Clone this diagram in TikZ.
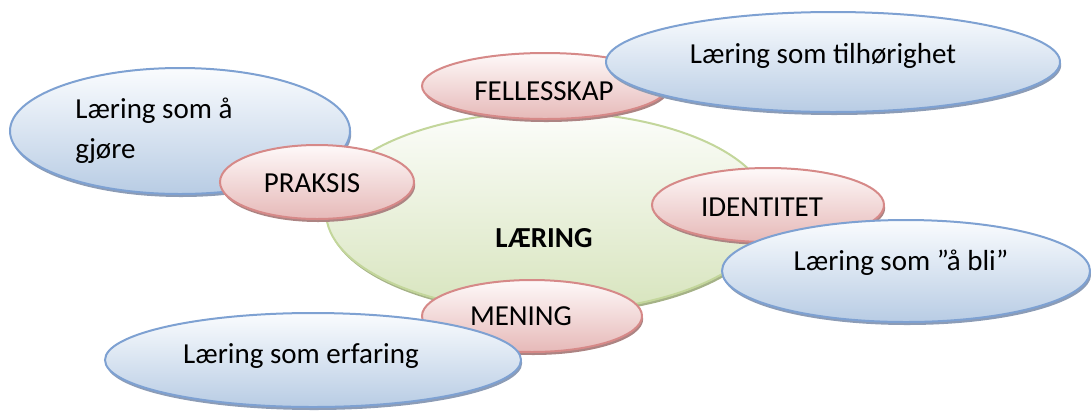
\documentclass[tikz,border=0pt]{standalone}
\usepackage{fontspec}
\setmainfont{Carlito}
\usetikzlibrary{shapes.geometric,shadows}

\definecolor{blueline}{RGB}{126,161,210}
\definecolor{bluetop}{RGB}{250,252,254}
\definecolor{bluebot}{RGB}{184,204,228}
\definecolor{blueshadow}{RGB}{140,156,182}
\definecolor{pinkline}{RGB}{214,137,136}
\definecolor{pinktop}{RGB}{254,249,249}
\definecolor{pinkbot}{RGB}{230,185,184}
\definecolor{pinkshadow}{RGB}{172,132,131}
\definecolor{greenline}{RGB}{195,214,155}
\definecolor{greentop}{RGB}{252,253,250}
\definecolor{greenbot}{RGB}{215,228,189}
\definecolor{greenshadow}{RGB}{165,178,135}

\begin{document}
\begin{tikzpicture}[x=0.5pt,y=-0.5pt,
  bubble/.style={ellipse,inner sep=0pt,line width=1pt},
  kjerne/.style={bubble,draw=greenline,top color=greentop,bottom color=greenbot,
    drop shadow={shadow xshift=0.6pt,shadow yshift=-1.5pt,fill=greenshadow,opacity=1}},
  rosa/.style={bubble,draw=pinkline,top color=pinktop,bottom color=pinkbot,
    drop shadow={shadow xshift=0.6pt,shadow yshift=-1.5pt,fill=pinkshadow,opacity=1}},
  blaa/.style={bubble,draw=blueline,top color=bluetop,bottom color=bluebot,
    drop shadow={shadow xshift=0.6pt,shadow yshift=-1.5pt,fill=blueshadow,opacity=1}},
  tekst/.style={font=\fontsize{14.5}{20}\selectfont,inner sep=0pt,anchor=base}]
\useasboundingbox (0,0) rectangle (1091,414);
\node[kjerne,minimum width=222pt,minimum height=100pt] (laering) at (548,212) {};
\node[blaa,minimum width=170pt,minimum height=63pt] (gjore) at (180,131) {};
\node[rosa,minimum width=97pt,minimum height=37pt] (praksis) at (317,182) {};
\node[rosa,minimum width=123pt,minimum height=33pt] (fellesskap) at (545,86) {};
\node[rosa,minimum width=116pt,minimum height=37pt] (identitet) at (768,205) {};
\node[rosa,minimum width=110pt,minimum height=36pt] (mening) at (532,316) {};
\node[blaa,minimum width=227pt,minimum height=50pt] (tilhorighet) at (833,62) {};
\node[blaa,minimum width=184pt,minimum height=51pt] (bli) at (906,271) {};
\node[blaa,minimum width=208pt,minimum height=47pt] (erfaring) at (313,360) {};

\node[tekst] (t-laering) at (544,247) {\bfseries LÆRING};
\node[tekst,anchor=base west,align=left] (t-gjore) at (75,158) {Læring som å\\gjøre};
\node[tekst] (t-praksis) at (312,192) {PRAKSIS};
\node[tekst] (t-fellesskap) at (544,100) {FELLESSKAP};
\node[tekst] (t-identitet) at (762,216) {IDENTITET};
\node[tekst] (t-mening) at (521,325) {MENING};
\node[tekst] (t-tilhorighet) at (823,63) {Læring som tilhørighet};
\node[tekst] (t-bli) at (901,270) {Læring som ”å bli”};
\node[tekst] (t-erfaring) at (301,363) {Læring som erfaring};
\end{tikzpicture}
\end{document}
